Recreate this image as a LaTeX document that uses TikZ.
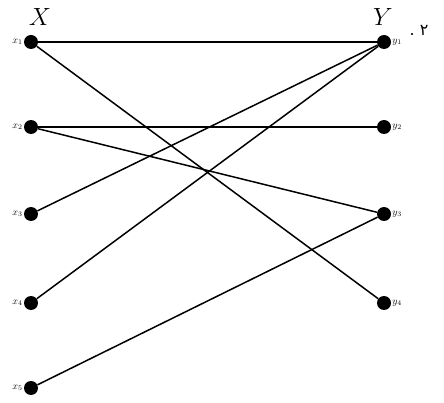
\documentclass[tikz,border=0pt]{standalone}
\usepackage{fontspec}
\newfontfamily\arabicfont[Script=Arabic]{DejaVu Sans}
\TeXXeTstate=1
\begin{document}
\begin{tikzpicture}[x=1pt,y=-1pt,
  vtx/.style={circle,fill=black,inner sep=0pt,minimum size=14pt},
  edge/.style={line width=1.5pt},
  lbl/.style={font=\normalsize,inner sep=1pt}]
\useasboundingbox (0,0) rectangle (444,403);
\node[vtx] (x1) at (31,42) {};
\node[vtx] (x2) at (31,127) {};
\node[vtx] (x3) at (31,214) {};
\node[vtx] (x4) at (31,303) {};
\node[vtx] (x5) at (31,388) {};
\node[vtx] (y1) at (384,42) {};
\node[vtx] (y2) at (384,127) {};
\node[vtx] (y3) at (384,214) {};
\node[vtx] (y4) at (384,303) {};
\node[font=\fontsize{24}{24}\selectfont] (X) at (40,17) {$X$};
\node[font=\fontsize{24}{24}\selectfont] (Y) at (383,17) {$Y$};
\foreach \i in {1,...,5} \node[lbl,left] (lx\i) at (x\i.west) {$x_{\i}$};
\foreach \i in {1,...,4} \node[lbl,right] (ly\i) at (y\i.east) {$y_{\i}$};
\node[font=\fontsize{16}{16}\selectfont] (num) at (419,30) {\arabicfont\beginR ٢ .\endR};
\draw[edge] (x1) -- (y1);
\draw[edge] (x1) -- (y4);
\draw[edge] (x2) -- (y2);
\draw[edge] (x2) -- (y3);
\draw[edge] (x3) -- (y1);
\draw[edge] (x4) -- (y1);
\draw[edge] (x5) -- (y3);
\end{tikzpicture}
\end{document}
